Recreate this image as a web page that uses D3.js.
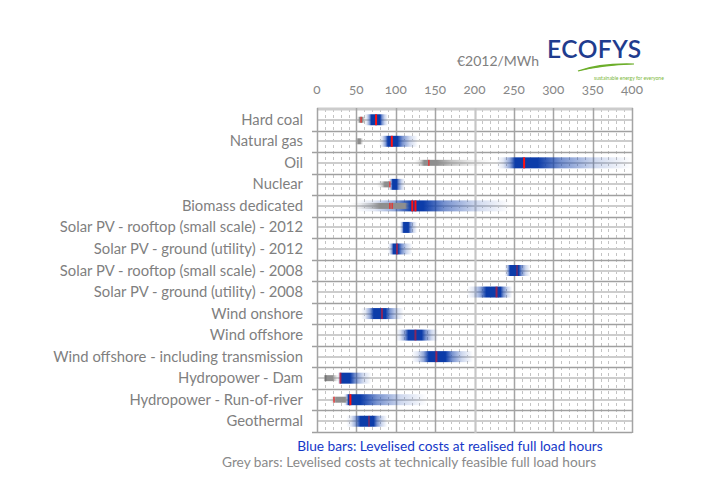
<!DOCTYPE html>
<html><head><meta charset="utf-8">
<script src="https://cdn.jsdelivr.net/npm/d3@7/dist/d3.min.js"></script>
<style>
html,body{margin:0;padding:0;background:#fff;}
svg text{font-family:Lato,"Open Sans",sans-serif;}
</style></head>
<body><div id="chart"></div>
<script>
const categories = ["Hard coal","Natural gas","Oil","Nuclear","Biomass dedicated",
 "Solar PV - rooftop (small scale) - 2012","Solar PV - ground (utility) - 2012",
 "Solar PV - rooftop (small scale) - 2008","Solar PV - ground (utility) - 2008",
 "Wind onshore","Wind offshore","Wind offshore - including transmission",
 "Hydropower - Dam","Hydropower - Run-of-river","Geothermal"];
// blue bars: levelised costs at realised full load hours (EUR2012/MWh)
const blueLo     = [60, 79, 228, 90, 48, 105, 90, 238, 190, 56, 100, 120, 26, 34, 37];
const blueCoreLo = [69, 90, 252, 96, 120, 110, 97, 245, 215, 72, 116, 142, 30, 40, 55];
const blueCoreHi = [80, 102, 280, 101, 135, 116, 103, 256, 233, 87, 133, 163, 42, 55, 72];
const blueHi     = [90, 128, 400, 112, 245, 127, 121, 271, 248, 110, 154, 198, 69, 140, 89];
const blueMarks  = [[75],[95],[263],[],[121,125],[],[101.6],[254],[228],[82.5],[125],[151.6],[29.7],[42.4],[66]];
// grey bars: levelised costs at technically feasible full load hours
const greyLo     = [50, 48, 124, 76, 42, null, null, null, null, null, null, null, 8, 16, null];
const greyCoreLo = [54, 52, 136, 86, 80, null, null, null, null, null, null, null, 10, 24, null];
const greyCoreHi = [58, 55, 152, 91, 112, null, null, null, null, null, null, null, 20, 36, null];
const greyHi     = [62, 59, 222, 93, 118, null, null, null, null, null, null, null, 28, 40, null];
const greyMarks  = [[56],[],[142],[92.5],[92.5,95.5],[],[],[],[],[],[],[],[11],[21.6],[]];
const xTicks = [0,50,100,150,200,250,300,350,400];
const xMinor = d3.range(0, 401, 10);

const W = 718, H = 482;
const svg = d3.select("#chart").append("svg").attr("width", W).attr("height", H);
const defs = svg.append("defs");
const x = d3.scaleLinear().domain([0,400]).range([317, 632]);
const y = d3.scaleBand().domain(categories).range([109, 432]).paddingInner(0).paddingOuter(0);
const bw = y.bandwidth();
const px = v => Math.round(v) + 0.5;

// grid
const g = svg.append("g");
g.selectAll("line.minor").data(xMinor.filter(v => v % 50 !== 0)).join("line").attr("class", "minor")
  .attr("x1", d => px(x(d))).attr("x2", d => px(x(d))).attr("y1", 109).attr("y2", 432)
  .attr("stroke", "#c4c4c4").attr("stroke-width", 1).attr("stroke-dasharray", "3,3");
g.selectAll("line.hc").data(categories).join("line").attr("class", "hc")
  .attr("x1", x(0)).attr("x2", x(400))
  .attr("y1", d => Math.round(y(d) + bw/2)).attr("y2", d => Math.round(y(d) + bw/2))
  .attr("stroke", "#cdcdcd").attr("stroke-width", 2);
const bounds = categories.map(c => y(c)).concat([432]).slice(1);
g.selectAll("line.hb").data(bounds).join("line").attr("class", "hb")
  .attr("x1", x(0) - 5).attr("x2", x(400))
  .attr("y1", d => px(d)).attr("y2", d => px(d))
  .attr("stroke", "#a0a0a0").attr("stroke-width", 1.3);
g.append("line").attr("x1", x(0)).attr("x2", x(400) + 1).attr("y1", 109).attr("y2", 109)
  .attr("stroke", "#cccccc").attr("stroke-width", 3);
g.selectAll("line.major").data(xTicks).join("line").attr("class", "major")
  .attr("x1", d => px(x(d))).attr("x2", d => px(x(d))).attr("y1", 108).attr("y2", 433)
  .attr("stroke", d => d === 200 ? "#c6c6c6" : "#a4a4a4").attr("stroke-width", d => d === 200 ? 2.2 : 1.5);

// gradient helper
function grad(id, color, lo, cLo, cHi, hi) {
  const lg = defs.append("linearGradient").attr("id", id)
    .attr("gradientUnits", "userSpaceOnUse")
    .attr("x1", x(lo)).attr("x2", x(hi)).attr("y1", 0).attr("y2", 0);
  const span = hi - lo;
  const a = cLo - lo, b = hi - cHi;
  const stops = [
    [0, 0], [(a * 0.35) / span, 0.12], [(a * 0.7) / span, 0.45], [a / span, 1],
    [(cHi - lo) / span, 1], [(cHi - lo + b * 0.25) / span, 0.55],
    [(cHi - lo + b * 0.6) / span, 0.2], [1, 0]
  ];
  stops.forEach(s => lg.append("stop").attr("offset", s[0]).attr("stop-color", color).attr("stop-opacity", s[1]));
}

const bars = svg.append("g");
categories.forEach((c, i) => {
  grad("b" + i, "#0c3ca9", blueLo[i], blueCoreLo[i], blueCoreHi[i], blueHi[i]);
});
bars.selectAll("rect.blue").data(categories).join("rect").attr("class", "blue")
  .attr("x", (d,i) => x(blueLo[i])).attr("width", (d,i) => x(blueHi[i]) - x(blueLo[i]))
  .attr("y", d => y(d) + bw/2 - 5.5).attr("height", 11)
  .attr("fill", (d,i) => `url(#b${i})`);

const greyIdx = categories.map((c,i) => i).filter(i => greyLo[i] !== null);
greyIdx.forEach(i => grad("g" + i, "#8e8e8e", greyLo[i], greyCoreLo[i], greyCoreHi[i], greyHi[i]));
bars.selectAll("rect.grey").data(greyIdx).join("rect").attr("class", "grey")
  .attr("x", i => x(greyLo[i])).attr("width", i => x(greyHi[i]) - x(greyLo[i]))
  .attr("y", i => y(categories[i]) + bw/2 - 3).attr("height", 6)
  .attr("fill", i => `url(#g${i})`);

// marks
const markAlpha = [1,1,1,1,1,0,0.5,0.3,0.55,0.5,0.5,0.55,0.6,1,0.35];
const bm = [];
blueMarks.forEach((arr, i) => arr.forEach(v => bm.push({i, v})));
bars.selectAll("rect.bm").data(bm).join("rect").attr("class", "bm")
  .attr("x", d => x(d.v) - 1).attr("width", 2)
  .attr("y", d => y(categories[d.i]) + bw/2 - 5.5).attr("height", 11)
  .attr("fill", "#ff1010").attr("opacity", d => markAlpha[d.i]);
const gm = [];
greyMarks.forEach((arr, i) => arr.forEach(v => gm.push({i, v})));
bars.selectAll("rect.gm").data(gm).join("rect").attr("class", "gm")
  .attr("x", d => x(d.v) - 0.8).attr("width", 1.6)
  .attr("y", d => y(categories[d.i]) + bw/2 - 3).attr("height", 6)
  .attr("fill", d => d.i === 12 ? "#707070" : "#e83030").attr("opacity", 0.85);

// category labels
svg.append("g").selectAll("text").data(categories).join("text")
  .attr("x", 303).attr("y", d => y(d) + bw/2 + 5)
  .attr("text-anchor", "end").attr("font-size", 14.8).attr("fill", "#7f7f7f")
  .text(d => d);

// tick labels
svg.append("g").selectAll("text").data(xTicks).join("text")
  .attr("x", d => x(d)).attr("y", 94).attr("text-anchor", "middle")
  .attr("font-size", 13.5).attr("fill", "#888888")
  .style("font-variant-numeric", "oldstyle-nums")
  .text(d => d);

svg.append("text").attr("x", 498).attr("y", 66).attr("text-anchor", "middle")
  .attr("font-size", 14).attr("fill", "#808080").text("€2012/MWh");

// logo
svg.append("text").attr("x", 547).attr("y", 58).attr("font-size", 24.5)
  .attr("fill", "#1f3c8e").attr("font-weight", 600).attr("letter-spacing", 0.5).text("ECOFYS");
svg.append("path").attr("d", "M578,71 Q600,63 634,64 Q602,65 578,71 Z")
  .attr("fill", "#6cae2a").attr("stroke", "#6cae2a").attr("stroke-width", 1.2);
svg.append("text").attr("x", 594).attr("y", 80).attr("font-size", 5).attr("fill", "#7cb83a")
  .text("sustainable energy for everyone");

// legend
svg.append("text").attr("x", 450).attr("y", 451).attr("text-anchor", "middle")
  .attr("font-size", 13.7).attr("fill", "#1538c8")
  .text("Blue bars: Levelised costs at realised full load hours");
svg.append("text").attr("x", 222).attr("y", 467)
  .attr("font-size", 13.7).attr("fill", "#8a8a8a")
  .text("Grey bars: Levelised costs at technically feasible full load hours");
</script></body></html>
